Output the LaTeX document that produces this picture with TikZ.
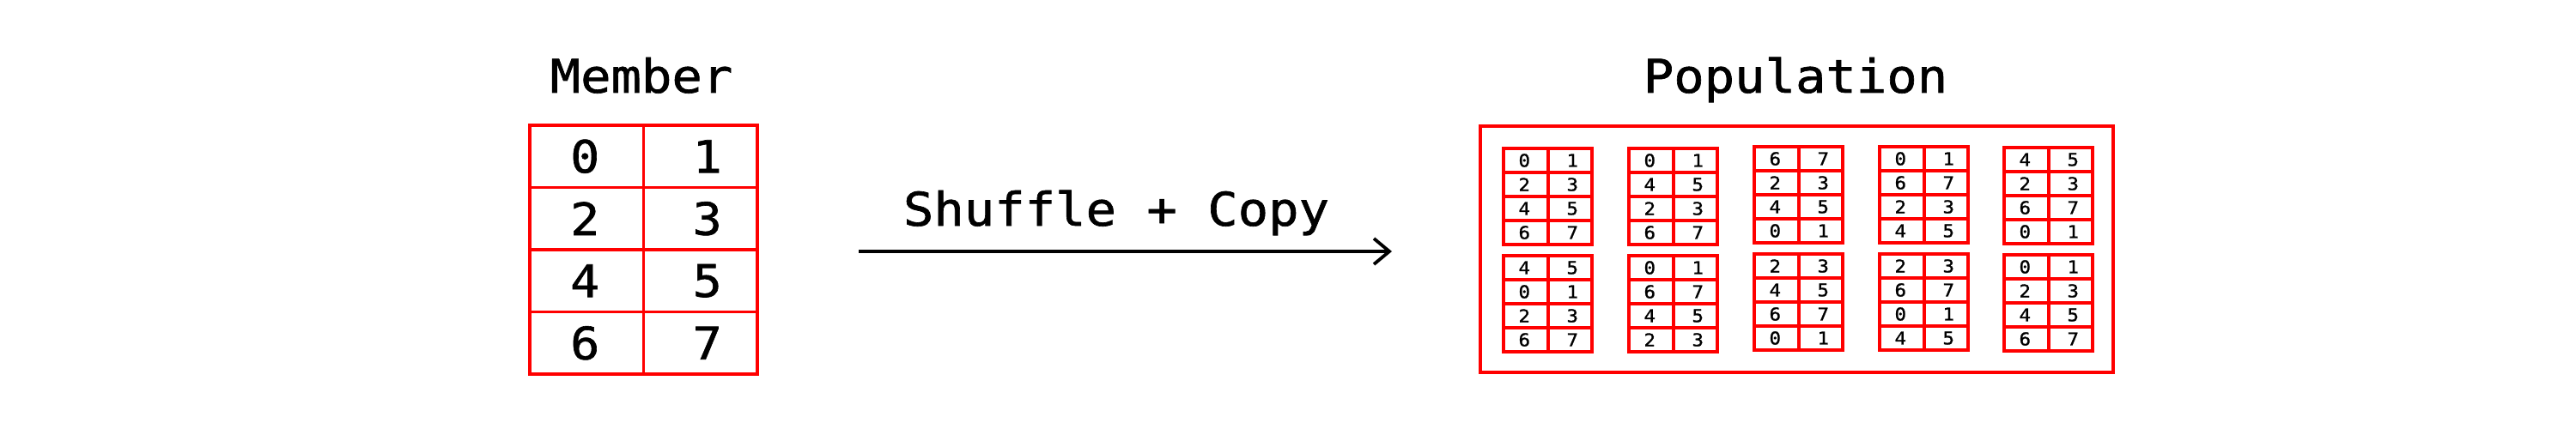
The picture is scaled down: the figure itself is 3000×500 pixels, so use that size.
\documentclass[tikz,border=0pt]{standalone}
\usepackage{fontspec}
\setmonofont[FakeStretch=1.09,FakeBold=1.2]{DejaVu Sans Mono}
\usetikzlibrary{arrows.meta}
\begin{document}
\begin{tikzpicture}[x=1pt,y=-1pt,
  title/.style={font=\ttfamily\fontsize{54}{60}\selectfont, anchor=base, inner sep=0pt},
  bigcell/.style={draw=red, line width=3.5pt, minimum width=132.5pt, minimum height=72.5pt, inner sep=0pt},
  bigdigit/.style={font=\ttfamily\fontsize{52}{60}\selectfont, inner sep=0pt},
  smallcell/.style={draw=red, line width=4pt, minimum width=51.5pt, minimum height=28pt, inner sep=0pt},
  smalldigit/.style={font=\ttfamily\fontsize{20.5}{24}\selectfont, inner sep=0pt},
  popbox/.style={draw=red, line width=3.5pt, inner sep=0pt, minimum width=737pt, minimum height=287pt},
  flow/.style={line width=3.8pt, -{Straight Barb[length=18pt,width=30pt]}}
]
\path[fill=white,use as bounding box] (0,0) rectangle (3000,500);

% titles
\node[title] (tmember) at (747,108) {Member};
\node[title] (tpop) at (2091,108) {Population};

% member grid
\foreach \k [count=\r from 0] in {0,1,2,3} {
  \pgfmathtruncatemacro\ev{2*\k}
  \pgfmathtruncatemacro\od{2*\k+1}
  \node[bigcell] (m-\r-0) at (683.25,{182.25+72.5*\r}) {};
  \node[bigcell] (m-\r-1) at (815.75,{182.25+72.5*\r}) {};
  \node[bigdigit] (md-\r-0) at (681.25,{182.25+72.5*\r}) {\ev};
  \node[bigdigit] (md-\r-1) at (823.75,{182.25+72.5*\r}) {\od};
}

% arrow
\coordinate (astart) at (1000,293);
\coordinate (aend) at (1621,293);
\draw[flow] (astart) -- (aend);
\node[title] (tshuffle) at (1300,263) {Shuffle + Copy};

% population box
\node[popbox] (pop) at (2092.5,290.5) {};

% small grids
\foreach \g/\gx/\gy/\ks in {
  1/1751/173/{0,1,2,3},
  2/1897/173/{0,2,1,3},
  3/2043/171/{3,1,2,0},
  4/2189/171/{0,3,1,2},
  5/2334/172/{2,1,3,0},
  6/1751/298/{2,0,1,3},
  7/1897/298/{0,3,2,1},
  8/2043/296/{1,2,3,0},
  9/2189/296/{1,3,0,2},
  10/2334/297/{0,1,2,3}} {
  \foreach \k [count=\r from 0] in \ks {
    \pgfmathtruncatemacro\ev{2*\k}
    \pgfmathtruncatemacro\od{2*\k+1}
    \node[smallcell] (g\g-\r-0) at ({\gx+25.75},{\gy+14+28*\r}) {};
    \node[smallcell] (g\g-\r-1) at ({\gx+77.25},{\gy+14+28*\r}) {};
    \node[smalldigit] (gd\g-\r-0) at ({\gx+24.25},{\gy+14+28*\r}) {\ev};
    \node[smalldigit] (gd\g-\r-1) at ({\gx+80.25},{\gy+14+28*\r}) {\od};
  }
}
\end{tikzpicture}
\end{document}
